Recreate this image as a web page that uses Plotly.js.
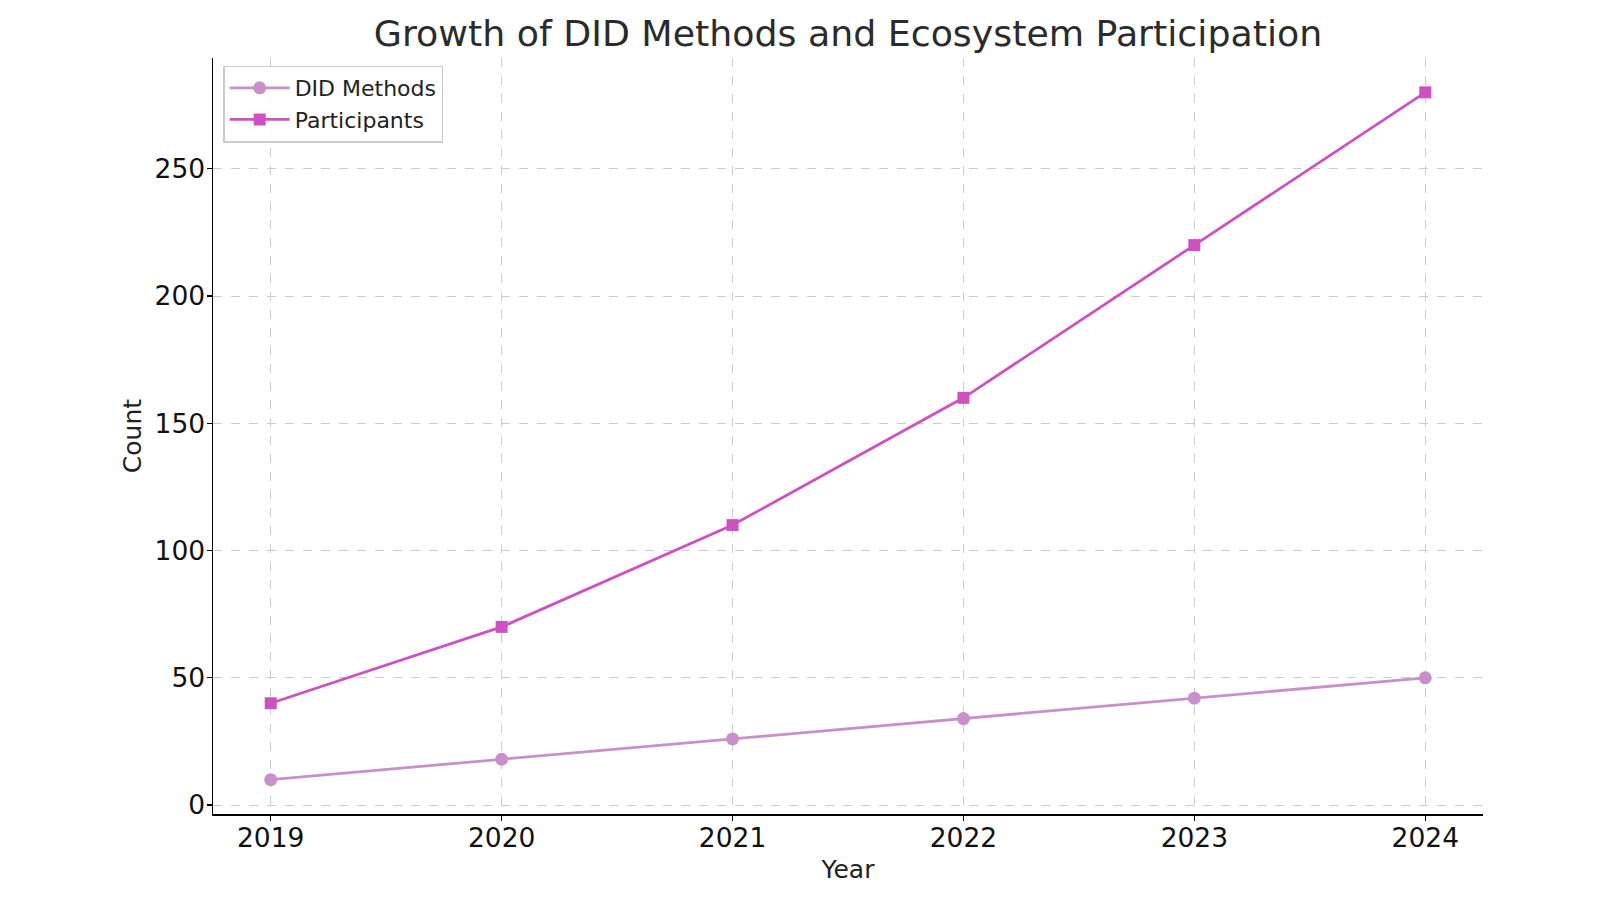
<!DOCTYPE html>
<html>
<head>
<meta charset="utf-8">
<script src="https://cdn.plot.ly/plotly-3.0.1.min.js"></script>
<style>html,body{margin:0;padding:0;background:#fff;}#chart{width:1600px;height:900px;}</style>
</head>
<body>
<div id="chart"></div>
<script>
const years = [2019, 2020, 2021, 2022, 2023, 2024];
const didMethods = [10, 18, 26, 34, 42, 50];
const participants = [40, 70, 110, 160, 220, 280];

const font = "DejaVu Sans, sans-serif";

const traces = [
  {
    x: years, y: didMethods, name: "DID Methods", type: "scatter", mode: "lines+markers",
    line: {color: "#c98fc9", width: 2.8},
    marker: {symbol: "circle", size: 13, color: "#c98fc9"}
  },
  {
    x: years, y: participants, name: "Participants", type: "scatter", mode: "lines+markers",
    line: {color: "#cc52c2", width: 2.8},
    marker: {symbol: "square", size: 12, color: "#cc52c2"}
  }
];

const layout = {
  width: 1600, height: 900,
  paper_bgcolor: "#ffffff", plot_bgcolor: "#ffffff",
  margin: {l: 213, r: 117, t: 58, b: 86},
  font: {family: font, color: "#222222"},
  title: {text: "Growth of DID Methods and Ecosystem Participation", x: 0.53, xanchor: "center", y: 0.963, yanchor: "middle",
          font: {family: font, size: 36.3, color: "#2b2b2b"}},
  showlegend: true,
  legend: {x: 0.008, y: 0.99, xanchor: "left", yanchor: "top", bgcolor: "rgba(255,255,255,0.85)",
           bordercolor: "#cccccc", borderwidth: 1.5, font: {family: font, size: 22, color: "#222"},
           tracegroupgap: 4, itemwidth: 60},
  xaxis: {
    title: {text: "Year", font: {family: font, size: 25, color: "#222"}, standoff: 8},
    range: [2018.75, 2024.25], tickmode: "array", tickvals: years, ticktext: years.map(String),
    tickfont: {family: font, size: 26.5, color: "#111"},
    showline: true, linecolor: "#000", linewidth: 1.5, mirror: false,
    ticks: "outside", ticklen: 5, tickwidth: 1.2, tickcolor: "#000",
    ticklabelstandoff: -5,
    showgrid: true, gridcolor: "#cccccc", griddash: "dash", gridwidth: 1,
    zeroline: false
  },
  yaxis: {
    title: {text: "Count", font: {family: font, size: 25, color: "#222"}, standoff: 6},
    range: [-3.5, 293.5], tickmode: "array", tickvals: [0, 50, 100, 150, 200, 250],
    tickfont: {family: font, size: 26.5, color: "#111"},
    showline: true, linecolor: "#000", linewidth: 1.5, mirror: false,
    ticks: "outside", ticklen: 5, tickwidth: 1.2, tickcolor: "#000",
    ticklabelstandoff: -4,
    showgrid: true, gridcolor: "#cccccc", griddash: "dash", gridwidth: 1,
    zeroline: false
  }
};

Plotly.newPlot("chart", traces, layout, {displayModeBar: false, staticPlot: true});
</script>
</body>
</html>
